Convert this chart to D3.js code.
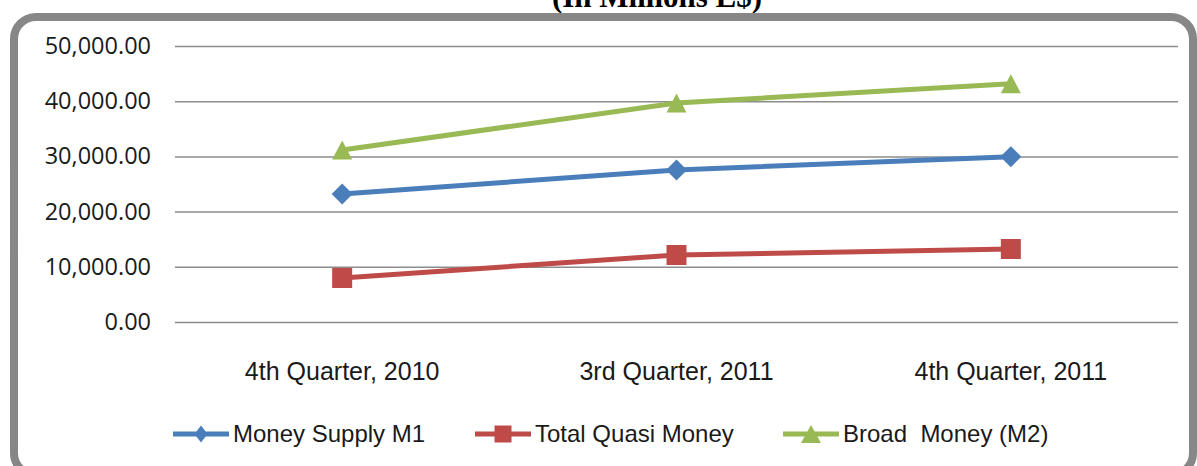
<!DOCTYPE html>
<html>
<head>
<meta charset="utf-8">
<script src="https://cdn.jsdelivr.net/npm/d3@7"></script>
<style>
  body { margin: 0; background: #fff; }
  svg { display: block; }
</style>
</head>
<body>
<div id="chart"></div>
<script>
// Money supply line chart

const width = 1197,
    height = 466,
    margin = ({ top: 46, right: 19, bottom: 144, left: 175 });

const quarters = ["4th Quarter, 2010", "3rd Quarter, 2011", "4th Quarter, 2011"];
const moneySupplyM1 = [23190, 27540, 29950];
const totalQuasiMoney = [7970, 12140, 13220];
const broadMoneyM2 = [31160, 39680, 43170];
const yTicks = [0, 10000, 20000, 30000, 40000, 50000];

// marker shapes, w = width, h = height
const diamond = (w, h) => `M0,${-h / 2}L${w / 2},0L0,${h / 2}L${-w / 2},0Z`;
const square = (w, h) => `M${-w / 2},${-h / 2}h${w}v${h}h${-w}Z`;
const triangle = (w, h) => `M0,${-h / 2}L${w / 2},${h / 2}L${-w / 2},${h / 2}Z`;

const series = [
  { name: "Money Supply M1", values: moneySupplyM1, color: "#4a7ebb", shape: diamond, size: [21, 21], legendSize: [13, 17] },
  { name: "Total Quasi Money", values: totalQuasiMoney, color: "#be4b48", shape: square, size: [20, 20], legendSize: [17, 17] },
  { name: "Broad  Money (M2)", values: broadMoneyM2, color: "#98b954", shape: triangle, size: [20, 19], legendSize: [20, 18] }
];

const svg = d3.select("#chart")
  .append("svg")
  .attr("width", width)
  .attr("height", height);

// title, mostly cut off above the frame
svg.append("text")
  .attr("x", 657)
  .attr("y", 7)
  .attr("text-anchor", "middle")
  .attr("font-family", "Liberation Serif")
  .attr("font-weight", "bold")
  .attr("font-size", 31)
  .text("(In Millions L$)");

// rounded frame
svg.append("rect")
  .attr("x", 14)
  .attr("y", 17)
  .attr("width", 1179)
  .attr("height", 458)
  .attr("rx", 22)
  .attr("fill", "none")
  .attr("stroke", "#878787")
  .attr("stroke-width", 8);

const x = d3.scaleBand()
  .domain(quarters)
  .range([margin.left, width - margin.right]);

const y = d3.scaleLinear()
  .domain([0, 50000])
  .range([height - margin.bottom, margin.top]);

// grid lines + y labels
const yAxis = svg.append("g")
  .attr("transform", `translate(${margin.left},0)`)
  .call(d3.axisLeft(y)
    .tickValues(yTicks)
    .tickSize(-(width - margin.left - margin.right))
    .tickPadding(24)
    .tickFormat(d3.format(",.2f")));
yAxis.select(".domain").remove();
yAxis.selectAll(".tick line")
  .attr("stroke", "#8c8c8c")
  .attr("stroke-width", 1.5);
yAxis.selectAll(".tick text")
  .attr("font-family", "Open Sans")
  .attr("font-size", 23.5)
  .attr("fill", "#1a1a1a");

// x labels
const xAxis = svg.append("g")
  .attr("transform", `translate(0,${height - margin.bottom})`)
  .call(d3.axisBottom(x).tickSize(0).tickPadding(40));
xAxis.select(".domain").remove();
xAxis.selectAll(".tick text")
  .attr("font-family", "Liberation Sans")
  .attr("font-size", 25)
  .attr("fill", "#1a1a1a");

const line = d3.line()
  .x((d, i) => x(quarters[i]) + x.bandwidth() / 2)
  .y(d => y(d));

const g = svg.append("g");

series.forEach(s => {
  g.append("path")
    .datum(s.values)
    .attr("fill", "none")
    .attr("stroke", s.color)
    .attr("stroke-width", 5)
    .attr("d", line);

  g.selectAll(null)
    .data(s.values)
    .join("path")
    .attr("transform", (d, i) => `translate(${x(quarters[i]) + x.bandwidth() / 2},${y(d)})`)
    .attr("d", s.shape(...s.size))
    .attr("fill", s.color);
});

// legend
const legendX = [173, 475, 783];
const legend = svg.append("g")
  .selectAll("g")
  .data(series)
  .join("g")
  .attr("transform", (d, i) => `translate(${legendX[i]},434)`);

legend.append("line")
  .attr("x1", 0)
  .attr("x2", 56)
  .attr("stroke", d => d.color)
  .attr("stroke-width", 5);

legend.append("path")
  .attr("transform", "translate(28,0)")
  .attr("d", d => d.shape(...d.legendSize))
  .attr("fill", d => d.color);

legend.append("text")
  .attr("x", 60)
  .attr("y", 8)
  .attr("font-family", "Liberation Sans")
  .attr("font-size", 24)
  .attr("fill", "#1a1a1a")
  .style("white-space", "pre")
  .text(d => d.name);
</script>
</body>
</html>
